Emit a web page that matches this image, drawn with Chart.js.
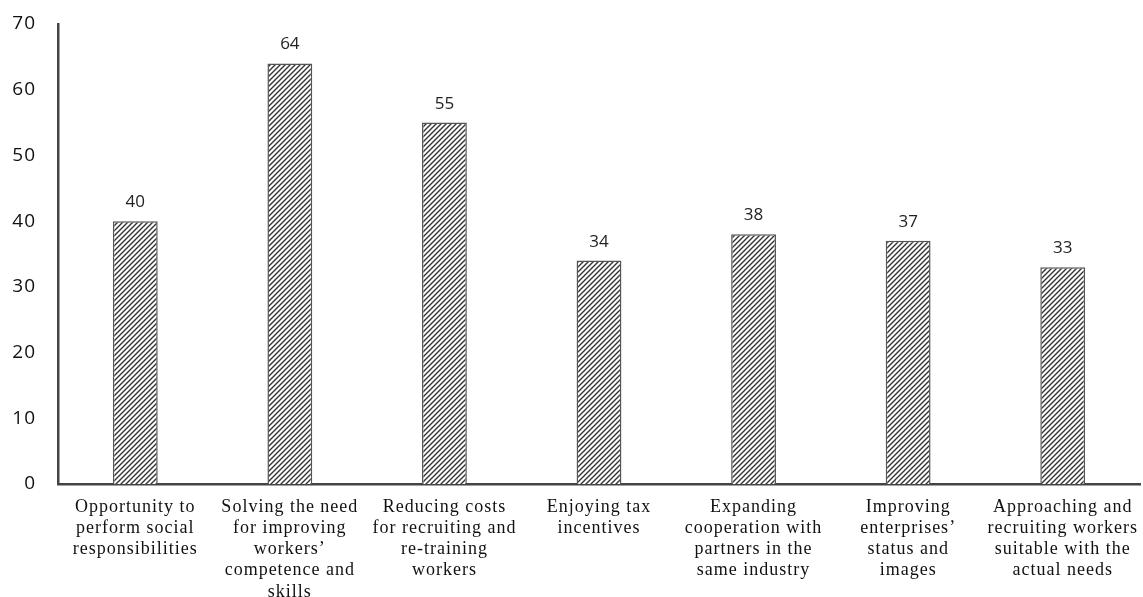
<!DOCTYPE html>
<html>
<head>
<meta charset="utf-8">
<script src="https://cdn.jsdelivr.net/npm/chart.js@4.4.1/dist/chart.umd.min.js"></script>
<style>
  html, body { margin: 0; padding: 0; background: #fff; }
  #wrap { width: 1143px; height: 597px; }
</style>
</head>
<body>
<div id="wrap"><canvas id="bar_chart"></canvas></div>
<script>
const categories = [
    ['Opportunity to', 'perform social', 'responsibilities'],
    ['Solving the need', 'for improving', 'workers\u2019', 'competence and', 'skills'],
    ['Reducing costs', 'for recruiting and', 're-training', 'workers'],
    ['Enjoying tax', 'incentives'],
    ['Expanding', 'cooperation with', 'partners in the', 'same industry'],
    ['Improving', 'enterprises\u2019', 'status and', 'images'],
    ['Approaching and', 'recruiting workers', 'suitable with the', 'actual needs']
];
const counts = [40, 64, 55, 34, 38, 37, 33];
const yTicks = [0, 10, 20, 30, 40, 50, 60, 70];

function makeHatch() {
    const size = 5;
    const c = document.createElement('canvas');
    c.width = size; c.height = size;
    const g = c.getContext('2d');
    g.fillStyle = '#fff';
    g.fillRect(0, 0, size, size);
    g.strokeStyle = '#333';
    g.lineWidth = 1.4;
    g.beginPath();
    g.moveTo(-1, size + 1); g.lineTo(size + 1, -1);
    g.moveTo(-1, 1); g.lineTo(1, -1);
    g.moveTo(size - 1, size + 1); g.lineTo(size + 1, size - 1);
    g.stroke();
    return g.createPattern(c, 'repeat');
}

// spaced-out lettering for the category labels, like the original
const letterSpacing = {
    id: 'letterSpacing',
    beforeDraw(chart) { chart.ctx.letterSpacing = '1px'; },
    afterDraw(chart) { chart.ctx.letterSpacing = '0px'; }
};

// draws the value above each bar
const valueLabels = {
    id: 'valueLabels',
    afterDatasetsDraw(chart) {
        const ctx = chart.ctx;
        const meta = chart.getDatasetMeta(0);
        ctx.save();
        ctx.letterSpacing = '0px';
        ctx.font = '17px "Open Sans", sans-serif';
        ctx.fillStyle = '#222';
        ctx.textAlign = 'center';
        ctx.textBaseline = 'alphabetic';
        meta.data.forEach((bar, i) => {
            ctx.fillText(String(counts[i]), bar.x, bar.y - 14);
        });
        ctx.restore();
    }
};

const bar_graph = document.getElementById('bar_chart').getContext('2d');

const bar_config = {
    type: 'bar',
    data: {
        labels: categories,
        datasets: [{
            data: counts,
            backgroundColor: makeHatch(),
            borderColor: '#555',
            borderWidth: 1.5,
            barPercentage: 0.29,
            categoryPercentage: 1.0
        }]
    },
    options: {
        responsive: true,
        maintainAspectRatio: false,
        animation: false,
        layout: { padding: { left: 0, right: 3, top: 24, bottom: 0 } },
        scales: {
            x: {
                afterFit: axis => { axis.height = 113; },
                grid: { display: false, drawTicks: false },
                border: { display: true, color: '#444', width: 2.5 },
                ticks: {
                    color: '#111',
                    font: { family: '"Liberation Serif", serif', size: 18, lineHeight: 1.17 },
                    maxRotation: 0,
                    autoSkip: false,
                    padding: 13
                }
            },
            y: {
                min: 0,
                max: 70,
                afterBuildTicks: axis => { axis.ticks = yTicks.map(v => ({ value: v })); },
                afterFit: axis => {
                    axis.width = 58;
                    axis.paddingTop = 0;
                    axis.paddingBottom = 0;
                },
                grid: { display: false, drawTicks: false },
                border: { display: true, color: '#444', width: 2.5 },
                ticks: {
                    color: '#111',
                    font: { family: '"Open Sans", sans-serif', size: 19 },
                    padding: 22
                }
            }
        },
        plugins: {
            legend: { display: false },
            tooltip: { enabled: false }
        }
    },
    plugins: [letterSpacing, valueLabels]
};

const bar_chart = new Chart(bar_graph, bar_config);
</script>
</body>
</html>
